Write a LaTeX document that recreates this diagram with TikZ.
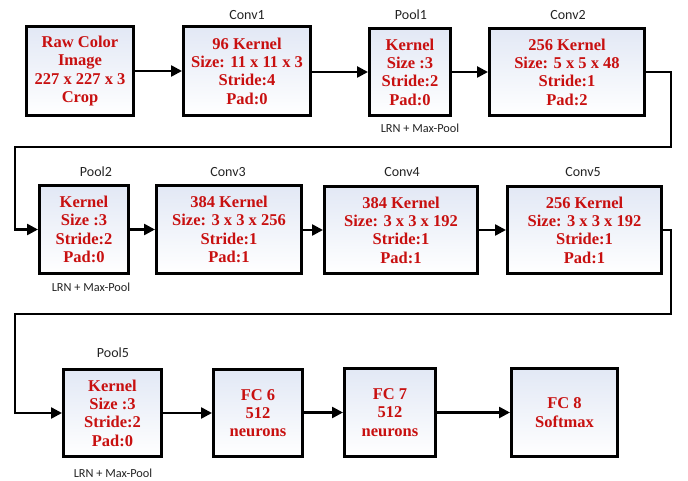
\documentclass[tikz,border=0pt]{standalone}
\usepackage{fontspec}
\setmainfont{Liberation Serif}
\newfontfamily\lblfont{Carlito}
\usetikzlibrary{arrows.meta}
\definecolor{txtred}{RGB}{200,16,16}
\definecolor{boxtop}{RGB}{226,232,245}
\definecolor{lblgray}{RGB}{35,35,35}
\tikzset{
  layer/.style={draw=black, line width=3pt, rectangle, inner sep=0pt,
    top color=boxtop, bottom color=white,
    text=txtred, align=center, font=\fontsize{16.5}{18.3}\selectfont\bfseries},
  caplabel/.style={font=\lblfont\fontsize{14}{16}\selectfont, text=lblgray, inner sep=0pt},
  lrnlabel/.style={font=\lblfont\fontsize{12.3}{14}\selectfont, text=lblgray, inner sep=0pt},
  conn/.style={line width=2.5pt, -{Triangle[length=11pt,width=11pt]}},
}
\begin{document}
\begin{tikzpicture}[x=1pt,y=-1pt]
\useasboundingbox (0,0) rectangle (688,481);
% row 1
\node[layer, minimum width=107pt, minimum height=89pt] (raw) at (80,71) {Raw Color\\Image\\227 x 227 x 3\\Crop};
\node[layer, minimum width=127pt, minimum height=89pt] (conv1) at (247,71) {96 Kernel\\Size: 11 x 11 x 3\\Stride:4\\Pad:0};
\node[layer, minimum width=81pt, minimum height=87pt] (pool1) at (410,72) {Kernel\\Size :3\\Stride:2\\Pad:0};
\node[layer, minimum width=155pt, minimum height=87pt] (conv2) at (567,72) {256 Kernel\\Size: 5 x 5 x 48\\Stride:1\\Pad:2};
% row 2
\node[layer, minimum width=89pt, minimum height=88pt] (pool2) at (84,229.5) {Kernel\\Size :3\\Stride:2\\Pad:0};
\node[layer, minimum width=145pt, minimum height=88pt] (conv3) at (229,229.5) {384 Kernel\\Size: 3 x 3 x 256\\Stride:1\\Pad:1};
\node[layer, minimum width=153pt, minimum height=87pt] (conv4) at (401,230) {384 Kernel\\Size: 3 x 3 x 192\\Stride:1\\Pad:1};
\node[layer, minimum width=154pt, minimum height=87pt] (conv5) at (584.5,230) {256 Kernel\\Size: 3 x 3 x 192\\Stride:1\\Pad:1};
% row 3
\node[layer, minimum width=98pt, minimum height=87pt] (pool5) at (112.5,413) {Kernel\\Size :3\\Stride:2\\Pad:0};
\node[layer, minimum width=89pt, minimum height=87pt] (fc6) at (258,413) {FC 6\\512\\neurons};
\node[layer, minimum width=91pt, minimum height=88pt] (fc7) at (390,412.5) {FC 7\\512\\neurons};
\node[layer, minimum width=106pt, minimum height=88pt] (fc8) at (564.5,412.5) {FC 8\\Softmax};
% captions
\node[caplabel] (c1) at (247,15) {Conv1};
\node[caplabel] (p1) at (411,15) {Pool1};
\node[caplabel] (c2) at (568,15) {Conv2};
\node[lrnlabel] (l1) at (420,128) {LRN + Max-Pool};
\node[caplabel] (p2) at (96,172) {Pool2};
\node[caplabel] (c3) at (228,172) {Conv3};
\node[caplabel] (c4) at (402,172) {Conv4};
\node[caplabel] (c5) at (583,172) {Conv5};
\node[lrnlabel] (l2) at (91,287) {LRN + Max-Pool};
\node[caplabel] (p5) at (113,353) {Pool5};
\node[lrnlabel] (l5) at (113,473) {LRN + Max-Pool};
% turn points
\coordinate (t1a) at (671,72);
\coordinate (t1b) at (671,147);
\coordinate (t1c) at (15,147);
\coordinate (t1d) at (15,229.5);
\coordinate (t2a) at (671,230);
\coordinate (t2b) at (671,314);
\coordinate (t2c) at (15,314);
\coordinate (t2d) at (15,413);
% connectors
\draw[conn] (raw) -- (conv1);
\draw[conn] (conv1.east |- pool1.west) -- (pool1.west);
\draw[conn] (pool1) -- (conv2);
\draw[conn] (conv2.east) -- (t1a) -- (t1b) -- (t1c) -- (t1d) -- (pool2.west);
\draw[conn] (pool2) -- (conv3);
\draw[conn] (conv3.east |- conv4.west) -- (conv4.west);
\draw[conn] (conv4) -- (conv5);
\draw[conn] (conv5.east) -- (t2a) -- (t2b) -- (t2c) -- (t2d) -- (pool5.west);
\draw[conn] (pool5) -- (fc6);
\draw[conn] (fc6.east |- fc7.west) -- (fc7.west);
\draw[conn] (fc7) -- (fc8);
\end{tikzpicture}
\end{document}
